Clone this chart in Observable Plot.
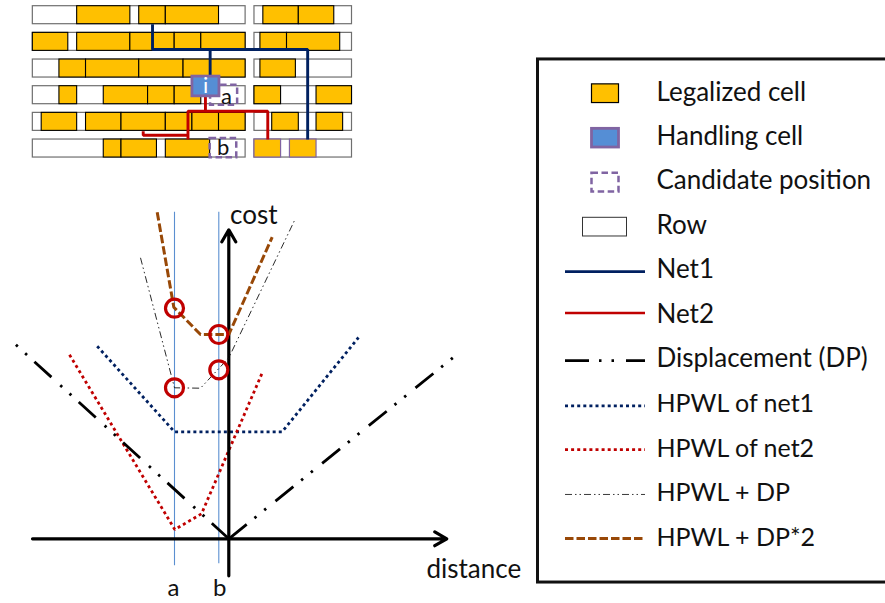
<!DOCTYPE html>
<html>
<head>
<meta charset="utf-8">
<script src="https://cdn.jsdelivr.net/npm/d3@7"></script>
<script src="https://cdn.jsdelivr.net/npm/@observablehq/plot@0.6"></script>
<style>
html,body{margin:0;padding:0;background:#fff;overflow:hidden}
#stage{position:relative;width:885px;height:603px;overflow:hidden}
#stage svg{position:absolute;left:0;top:0;background:none;max-width:none}
</style>
</head>
<body>
<div id="stage"></div>
<script>
// ---- placement schematic: x in sites, y in rows ----
const rowSegments = [[0, 24], [25, 36]];
const rowCount = [0, 1, 2, 3, 4, 5];
const legalCells = [
  [0, 5, 11], [0, 12, 15], [0, 15, 21], [0, 26, 30], [0, 30, 34],
  [1, 0, 4], [1, 5, 11], [1, 11, 16], [1, 16, 19], [1, 19, 24], [1, 25.67, 28.67], [1, 28.67, 34.67],
  [2, 3, 6], [2, 6, 12], [2, 12, 17], [2, 17, 24], [2, 25.67, 29.67],
  [3, 3, 5], [3, 8, 13], [3, 13, 16], [3, 16, 19], [3, 25, 28], [3, 32, 36],
  [4, 1, 5], [4, 6, 10], [4, 10, 15], [4, 15, 18], [4, 18, 21], [4, 21, 24], [4, 27, 30], [4, 32, 35],
  [5, 8, 10], [5, 10, 14], [5, 15, 20]
];
const movedCells = [[5, 25, 28], [5, 29, 32]];
const handlingCell = [18, 21.05, 2.64, 3.38];
const candidates = [[20.05, 23.1, 2.96, 3.71], [20, 23, 4.96, 5.68]];
const net1Paths = [
  [[13.5, 0.675], [13.5, 1.625], [31, 1.625], [31, 5]],
  [[20, 1.625], [20, 2.66]]
];
const net2Paths = [
  [[19.47, 3.375], [19.47, 3.94]],
  [[26.5, 5], [26.5, 3.94], [17.5, 3.94], [17.5, 5]],
  [[17.5, 4.84], [12.45, 4.84], [12.45, 4.69]]
];
const cellLabels = [["i", 19.5, 3.0, "#fff"], ["a", 21.84, 3.42, "#111"], ["b", 21.47, 5.33, "#111"]];

// ---- cost chart: distance and cost from the origin ----
const displacementLeft = [[0, 0], [-214, 195]];
const displacementRight = [[0, 0], [224, 181]];
const hpwlNet1 = [[-131.6, 192.6], [-54.3, 107], [53.4, 107], [129.7, 201.3]];
const hpwlNet2 = [[-159.3, 184], [-54, 9.3], [-27.3, 25], [34, 167.3]];
const hpwlDp = [[-88.3, 281], [-54.3, 151], [-28.3, 150.6], [0, 181], [65.7, 318.3]];
const hpwlDp2 = [[-71.6, 326.6], [-55, 231.6], [-28.3, 204.3], [0, 204.3], [43.4, 301.6]];
const candidateGuides = [[-54.3, 326.6, -27], [-10, 326.6, -25]];
const optima = [[-54.3, 230.6], [-10, 204.3], [-10, 169], [-54.3, 151]];
const axisLengths = {left: -196.3, right: 218, down: -37, up: 309};
const tickLabels = [["a", -55.3], ["b", -9]];

// ---- legend ----
const legendLabels = ["Legalized cell", "Handling cell", "Candidate position", "Row", "Net1", "Net2",
  "Displacement (DP)", "HPWL of net1", "HPWL of net2", "HPWL + DP", "HPWL + DP*2"];

const colors = {cell: "#ffc000", handling: "#558ed5", purple: "#8064a2", net1: "#002060", net2: "#c00000",
  brown: "#984807", guide: "#5b8fd0", row: "#6f6f6f", ink: "#111"};
const font = "Lato, Carlito, 'Noto Sans', sans-serif";
const dashes = {disp: "23 10 2.5 10 2.5 12", dotted: "3 3.1", thin: "7 3 1.5 3 1.5 3", brown: "8.5 3", candidate: "6.5 3.5"};
const stage = document.getElementById("stage");
const base = {width: 885, height: 603, margin: 0, style: {background: "none"}};
const toRows = d => ({r: d[0], s: d[1], e: d[2]});
const toLine = (paths) => paths.flatMap((p, i) => p.map(q => ({x: q[0], y: q[1], i})));
const butt = {strokeLinecap: "butt", strokeLinejoin: "miter"};

// schematic
const rowRects = rowCount.flatMap(r => rowSegments.map(s => ({r, s: s[0], e: s[1]})));
const rowH = 0.675;
const rectOf = (o) => ({x1: "s", x2: "e", y1: "r", y2: d => d.r + rowH, ...o});
stage.append(Plot.plot({...base,
  x: {domain: [0, 36], range: [32.33, 351.5], axis: null},
  y: {domain: [0, 6], range: [5.7, 165.7], axis: null},
  marks: [
    Plot.rect(rowRects, rectOf({fill: "#fff", stroke: colors.row, strokeWidth: 1.2})),
    Plot.rect(legalCells.map(toRows), rectOf({fill: colors.cell, stroke: "#000", strokeWidth: 1.1})),
    Plot.rect(movedCells.map(toRows), rectOf({fill: colors.cell, stroke: colors.purple, strokeWidth: 1.2})),
    Plot.rect(candidates, {x1: "0", x2: "1", y1: "2", y2: "3", fill: "none", stroke: colors.purple, strokeWidth: 2.5, strokeDasharray: dashes.candidate}),
    Plot.line(toLine(net1Paths), {x: "x", y: "y", z: "i", stroke: colors.net1, strokeWidth: 2.9, ...butt}),
    Plot.line(toLine(net2Paths), {x: "x", y: "y", z: "i", stroke: colors.net2, strokeWidth: 2.9, ...butt}),
    Plot.rect([handlingCell], {x1: "0", x2: "1", y1: "2", y2: "3", fill: colors.handling, stroke: colors.purple, strokeWidth: 2.8}),
    Plot.text(cellLabels, {text: "0", x: "1", y: "2", fill: "3", fontSize: 22, fontFamily: font})
  ]
}));

// cost chart
const asLine = a => a.map(d => ({d: d[0], c: d[1]}));
stage.append(Plot.plot({...base,
  x: {domain: [0, 650], range: [228.3, 878.3], axis: null},
  y: {domain: [0, 500], range: [538.3, 38.3], axis: null},
  marks: [
    Plot.ruleX(candidateGuides, {x: "0", y1: "1", y2: "2", stroke: colors.guide, strokeWidth: 1.1}),
    Plot.line(asLine(hpwlNet1), {x: "d", y: "c", stroke: colors.net1, strokeWidth: 2.8, strokeDasharray: dashes.dotted, ...butt}),
    Plot.line(asLine(hpwlNet2), {x: "d", y: "c", stroke: colors.net2, strokeWidth: 2.8, strokeDasharray: dashes.dotted, ...butt}),
    Plot.arrow([[axisLengths.left, 0, axisLengths.right, 0]], {x1: "0", y1: "1", x2: "2", y2: "3", stroke: "#000", strokeWidth: 3.2, headLength: 6.5}),
    Plot.arrow([[0, axisLengths.down, 0, axisLengths.up]], {x1: "0", y1: "1", x2: "2", y2: "3", stroke: "#000", strokeWidth: 3.2, headLength: 6.5}),
    Plot.line(asLine(displacementLeft), {x: "d", y: "c", stroke: "#000", strokeWidth: 2.8, strokeDasharray: dashes.disp, ...butt}),
    Plot.line(asLine(displacementRight), {x: "d", y: "c", stroke: "#000", strokeWidth: 2.8, strokeDasharray: dashes.disp, ...butt}),
    Plot.line(asLine(hpwlDp), {x: "d", y: "c", stroke: "#111", strokeWidth: 0.9, strokeDasharray: dashes.thin, ...butt}),
    Plot.line(asLine(hpwlDp2), {x: "d", y: "c", stroke: colors.brown, strokeWidth: 3, strokeDasharray: dashes.brown, ...butt}),
    Plot.dot(optima, {x: "0", y: "1", r: 9, fill: "none", stroke: colors.net2, strokeWidth: 3.2}),
    Plot.text(tickLabels, {text: "0", x: "1", y: -50, fontSize: 24, fontFamily: font, fill: colors.ink}),
    Plot.text(["cost"], {x: 25, y: 323, fontSize: 26, fontFamily: font, fill: colors.ink}),
    Plot.text(["distance"], {x: 245, y: -31, fontSize: 26, fontFamily: font, fill: colors.ink})
  ]
}));

// legend: x in picture units, y in legend slots
const textX = 656, lineX1 = 565, lineX2 = 645, swatchX1 = 591.5, swatchX2 = 618.5;
const slotH = 0.21;
const swatch = (slot) => [{y1: slot - slotH, y2: slot + slotH}];
const legendLines = [
  [4, colors.net1, 2.6, null], [4.93, colors.net2, 2.6, null],
  [6, "#000", 2.8, "24 10 2.5 10 2.5 12"], [7.02, colors.net1, 2.8, dashes.dotted], [8, colors.net2, 2.8, dashes.dotted],
  [9.01, "#222", 0.9, dashes.thin], [10, colors.brown, 3, dashes.brown]
];
stage.append(Plot.plot({...base,
  x: {domain: [0, 885], range: [0, 885], axis: null},
  y: {domain: [0, 10], range: [93.2, 538], axis: null},
  marks: [
    Plot.rect([{}], {x1: 537.5, x2: 900, y1: -0.77, y2: 10.99, fill: "none", stroke: "#111", strokeWidth: 3}),
    Plot.rect(swatch(0), {x1: swatchX1, x2: swatchX2, y1: "y1", y2: "y2", fill: colors.cell, stroke: "#000", strokeWidth: 1.2}),
    Plot.rect(swatch(1), {x1: swatchX1, x2: swatchX2, y1: "y1", y2: "y2", fill: colors.handling, stroke: colors.purple, strokeWidth: 2.8}),
    Plot.rect(swatch(2), {x1: swatchX1, x2: swatchX2, y1: "y1", y2: "y2", fill: "none", stroke: colors.purple, strokeWidth: 2.5, strokeDasharray: dashes.candidate}),
    Plot.rect(swatch(3), {x1: 582.5, x2: 626.5, y1: "y1", y2: "y2", fill: "#fff", stroke: "#333", strokeWidth: 1}),
    ...legendLines.map(l => Plot.ruleY([l[0]], {x1: lineX1, x2: lineX2, stroke: l[1], strokeWidth: l[2], strokeDasharray: l[3] ?? undefined})),
    Plot.text(legendLabels.slice(0, 7), {text: d => d, x: textX, y: (d, i) => i, dy: -1.5, textAnchor: "start", fontSize: 26, fontFamily: font, fill: colors.ink}),
    Plot.text(legendLabels.slice(7), {text: d => d, x: textX, y: (d, i) => i + 7, dy: -1, textAnchor: "start", fontSize: 25, fontFamily: font, fill: colors.ink})
  ]
}));
</script>
</body>
</html>
